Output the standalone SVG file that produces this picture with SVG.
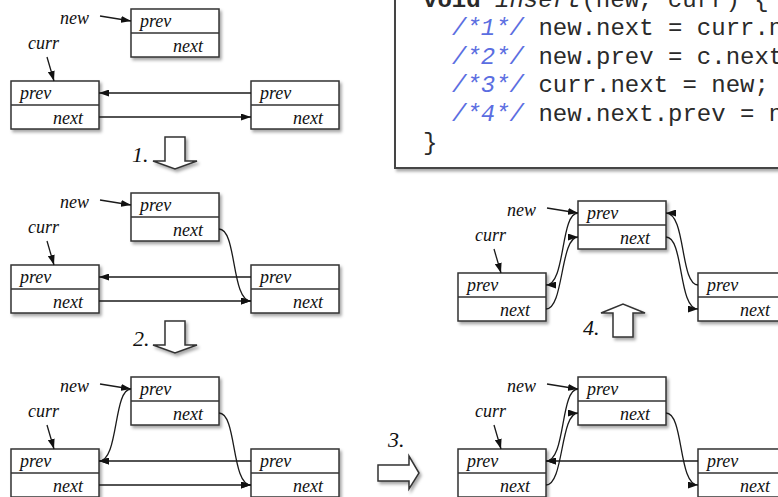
<svg xmlns="http://www.w3.org/2000/svg" width="778" height="497" viewBox="0 0 778 497">
  <defs>
    <filter id="shadow" x="-10%" y="-10%" width="130%" height="140%">
      <feDropShadow dx="2" dy="2.5" stdDeviation="1.6" flood-color="#000" flood-opacity="0.35"/>
    </filter>
    <marker id="head" viewBox="0 0 10 7" refX="10" refY="3.5" markerWidth="10" markerHeight="7" markerUnits="userSpaceOnUse" orient="auto">
      <path d="M0,0 L10,3.5 L0,7 z" fill="#111"/>
    </marker>
    <style>
      .box { fill: #fff; stroke: #333; stroke-width: 1.5; filter: url(#shadow); }
      .div { stroke: #333; stroke-width: 1.5; }
      .fld { font-size: 18px; fill: #111; }
      .nx { text-anchor: end; }
      .lbl { font-size: 18px; fill: #111; }
      .step { font-size: 22px; fill: #111; }
      .link { fill: none; stroke: #1a1a1a; stroke-width: 1.3; marker-end: url(#head); }
      .block { fill: #fff; stroke: #333; stroke-width: 1.5; filter: url(#shadow); }
      .code { font-size: 24px; fill: #2a2a2a; }
      .cmt { fill: #5b6ee1; font-style: italic; }
      .panel { fill: #fff; stroke: #444; stroke-width: 2; filter: url(#shadow); }
    </style>
  </defs>

  <rect width="778" height="497" fill="#fff"/>

  <!-- code listing -->
  <g id="code" font-family="Liberation Mono, Courier New, monospace">
    <rect class="panel" x="395" y="-20" width="420" height="188"/>
    <text class="code" x="423" y="7"><tspan font-weight="bold">void</tspan> <tspan font-style="italic">insert</tspan>(new, curr) {</text>
    <text class="code" x="452" y="35"><tspan class="cmt">/*1*/</tspan> new.next = curr.n</text>
    <text class="code" x="452" y="64"><tspan class="cmt">/*2*/</tspan> new.prev = c.next</text>
    <text class="code" x="452" y="92"><tspan class="cmt">/*3*/</tspan> curr.next = new;</text>
    <text class="code" x="452" y="121"><tspan class="cmt">/*4*/</tspan> new.next.prev = n</text>
    <text class="code" x="423" y="150">}</text>
  </g>

  <g font-family="Liberation Serif, Times New Roman, serif" font-style="italic">
  <!-- step arrows -->
  <g id="steps">
    <polygon class="block" points="165,137 185,137 185,161 197,161 175,169 153,161 165,161"/>
    <text class="step" x="132" y="162">1.</text>
    <polygon class="block" points="165,321 185,321 185,345 197,345 175,353 153,345 165,345"/>
    <text class="step" x="133" y="346">2.</text>
    <polygon class="block" points="378,465 409,465 409,456 419,473 409,489 409,481 378,481"/>
    <text class="step" x="388" y="447">3.</text>
    <polygon class="block" points="613,337 633,337 633,313 645,313 623,304 601,313 613,313"/>
    <text class="step" x="583" y="335">4.</text>
  </g>

  <!-- panel A: initial list -->
  <g id="a-new">
    <rect class="box" x="131" y="9" width="88" height="48"/>
    <line class="div" x1="131" y1="33" x2="219" y2="33"/>
    <text class="fld" x="140" y="27">prev</text>
    <text class="fld nx" x="203" y="52">next</text>
  </g>
  <g id="a-curr">
    <rect class="box" x="11" y="81" width="88" height="48"/>
    <line class="div" x1="11" y1="105" x2="99" y2="105"/>
    <text class="fld" x="20" y="99">prev</text>
    <text class="fld nx" x="83" y="124">next</text>
  </g>
  <g id="a-right">
    <rect class="box" x="251" y="81" width="88" height="48"/>
    <line class="div" x1="251" y1="105" x2="339" y2="105"/>
    <text class="fld" x="260" y="99">prev</text>
    <text class="fld nx" x="323" y="124">next</text>
  </g>
  <g id="a-labels">
    <text class="lbl" x="60" y="24">new</text>
    <text class="lbl" x="28" y="49">curr</text>
  </g>

  <!-- panel B: after step 1 -->
  <g id="b-new">
    <rect class="box" x="131" y="193" width="88" height="48"/>
    <line class="div" x1="131" y1="217" x2="219" y2="217"/>
    <text class="fld" x="140" y="211">prev</text>
    <text class="fld nx" x="203" y="236">next</text>
  </g>
  <g id="b-curr">
    <rect class="box" x="11" y="265" width="88" height="48"/>
    <line class="div" x1="11" y1="289" x2="99" y2="289"/>
    <text class="fld" x="20" y="283">prev</text>
    <text class="fld nx" x="83" y="308">next</text>
  </g>
  <g id="b-right">
    <rect class="box" x="251" y="265" width="88" height="48"/>
    <line class="div" x1="251" y1="289" x2="339" y2="289"/>
    <text class="fld" x="260" y="283">prev</text>
    <text class="fld nx" x="323" y="308">next</text>
  </g>
  <g id="b-labels">
    <text class="lbl" x="60" y="208">new</text>
    <text class="lbl" x="28" y="233">curr</text>
  </g>

  <!-- panel C: after step 2 -->
  <g id="c-new">
    <rect class="box" x="131" y="377" width="88" height="48"/>
    <line class="div" x1="131" y1="401" x2="219" y2="401"/>
    <text class="fld" x="140" y="395">prev</text>
    <text class="fld nx" x="203" y="420">next</text>
  </g>
  <g id="c-curr">
    <rect class="box" x="11" y="449" width="88" height="48"/>
    <line class="div" x1="11" y1="473" x2="99" y2="473"/>
    <text class="fld" x="20" y="467">prev</text>
    <text class="fld nx" x="83" y="492">next</text>
  </g>
  <g id="c-right">
    <rect class="box" x="251" y="449" width="88" height="48"/>
    <line class="div" x1="251" y1="473" x2="339" y2="473"/>
    <text class="fld" x="260" y="467">prev</text>
    <text class="fld nx" x="323" y="492">next</text>
  </g>
  <g id="c-labels">
    <text class="lbl" x="60" y="392">new</text>
    <text class="lbl" x="28" y="417">curr</text>
  </g>

  <!-- panel D: after step 4 -->
  <g id="d-new">
    <rect class="box" x="578" y="201" width="88" height="48"/>
    <line class="div" x1="578" y1="225" x2="666" y2="225"/>
    <text class="fld" x="587" y="219">prev</text>
    <text class="fld nx" x="650" y="244">next</text>
  </g>
  <g id="d-curr">
    <rect class="box" x="458" y="273" width="88" height="48"/>
    <line class="div" x1="458" y1="297" x2="546" y2="297"/>
    <text class="fld" x="467" y="291">prev</text>
    <text class="fld nx" x="530" y="316">next</text>
  </g>
  <g id="d-right">
    <rect class="box" x="698" y="273" width="88" height="48"/>
    <line class="div" x1="698" y1="297" x2="786" y2="297"/>
    <text class="fld" x="707" y="291">prev</text>
    <text class="fld nx" x="770" y="316">next</text>
  </g>
  <g id="d-labels">
    <text class="lbl" x="507" y="216">new</text>
    <text class="lbl" x="475" y="241">curr</text>
  </g>

  <!-- panel E: after step 3 -->
  <g id="e-new">
    <rect class="box" x="578" y="377" width="88" height="48"/>
    <line class="div" x1="578" y1="401" x2="666" y2="401"/>
    <text class="fld" x="587" y="395">prev</text>
    <text class="fld nx" x="650" y="420">next</text>
  </g>
  <g id="e-curr">
    <rect class="box" x="458" y="449" width="88" height="48"/>
    <line class="div" x1="458" y1="473" x2="546" y2="473"/>
    <text class="fld" x="467" y="467">prev</text>
    <text class="fld nx" x="530" y="492">next</text>
  </g>
  <g id="e-right">
    <rect class="box" x="698" y="449" width="88" height="48"/>
    <line class="div" x1="698" y1="473" x2="786" y2="473"/>
    <text class="fld" x="707" y="467">prev</text>
    <text class="fld nx" x="770" y="492">next</text>
  </g>
  <g id="e-labels">
    <text class="lbl" x="507" y="392">new</text>
    <text class="lbl" x="475" y="417">curr</text>
  </g>
  </g>

  <!-- pointers and links -->
  <g id="connectors">
    <!-- panel A -->
    <path class="link" d="M100,16 L131,21"/>
    <path class="link" d="M47,57 L54,81"/>
    <path class="link" d="M251,93 H99"/>
    <path class="link" d="M99,117 H251"/>
    <!-- panel B -->
    <path class="link" d="M100,200 L131,205"/>
    <path class="link" d="M47,241 L54,265"/>
    <path class="link" d="M251,277 H99"/>
    <path class="link" d="M99,301 H251"/>
    <path class="link" d="M219,229 C237,229 231,301 251,301"/>
    <!-- panel C -->
    <path class="link" d="M100,384 L131,389"/>
    <path class="link" d="M47,425 L54,449"/>
    <path class="link" d="M251,461 H99"/>
    <path class="link" d="M99,485 H251"/>
    <path class="link" d="M219,413 C237,413 231,485 251,485"/>
    <path class="link" d="M131,389 C113,389 119,461 99,461"/>
    <!-- panel D -->
    <path class="link" d="M547,208 L578,213"/>
    <path class="link" d="M494,249 L501,273"/>
    <path class="link" d="M578,213 C560,213 566,285 546,285"/>
    <path class="link" d="M546,309 C564,309 560,237 578,237"/>
    <path class="link" d="M666,237 C684,237 678,309 698,309"/>
    <path class="link" d="M698,285 C680,285 686,213 666,213"/>
    <!-- panel E -->
    <path class="link" d="M547,384 L578,389"/>
    <path class="link" d="M494,425 L501,449"/>
    <path class="link" d="M698,461 H546"/>
    <path class="link" d="M578,389 C560,389 566,461 546,461"/>
    <path class="link" d="M546,485 C564,485 560,413 578,413"/>
    <path class="link" d="M666,413 C684,413 678,485 698,485"/>
  </g>
</svg>
